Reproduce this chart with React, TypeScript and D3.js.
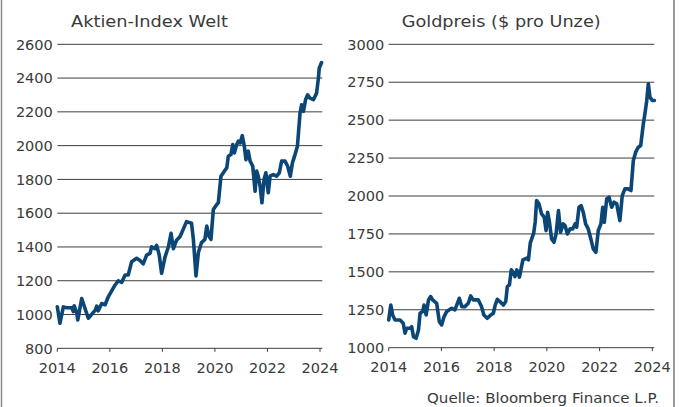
import React from "react";
import * as d3 from "d3";

const aktienWelt: [number, number][] = [
  [2014.0, 1046], [2014.1, 948], [2014.23, 1045], [2014.36, 1040], [2014.55, 1040],
  [2014.61, 1017], [2014.64, 1052], [2014.74, 1010], [2014.78, 968], [2014.93, 1095],
  [2015.18, 978], [2015.44, 1025], [2015.5, 1050], [2015.56, 1022], [2015.69, 1065],
  [2015.82, 1058], [2015.94, 1105], [2016.07, 1140], [2016.2, 1175], [2016.32, 1200],
  [2016.45, 1190], [2016.58, 1234], [2016.7, 1234], [2016.83, 1313], [2017.02, 1333],
  [2017.15, 1320], [2017.27, 1300], [2017.4, 1352], [2017.53, 1362], [2017.59, 1401],
  [2017.72, 1390], [2017.78, 1410], [2017.88, 1352], [2017.97, 1244], [2018.1, 1340],
  [2018.23, 1401], [2018.33, 1481], [2018.42, 1390], [2018.54, 1440], [2018.67, 1460],
  [2018.92, 1550], [2019.11, 1540], [2019.18, 1445], [2019.28, 1229], [2019.37, 1367],
  [2019.49, 1426], [2019.62, 1445], [2019.69, 1524], [2019.77, 1465], [2019.85, 1445],
  [2019.94, 1622], [2020.07, 1652], [2020.13, 1662], [2020.23, 1819], [2020.36, 1849],
  [2020.45, 1868], [2020.51, 1937], [2020.61, 1947], [2020.68, 2006], [2020.74, 1957],
  [2020.83, 2006], [2020.89, 2026], [2020.96, 2016], [2021.04, 2059], [2021.12, 1996],
  [2021.18, 1917], [2021.27, 1967], [2021.34, 1908], [2021.44, 1878], [2021.53, 1730],
  [2021.59, 1849], [2021.65, 1819], [2021.72, 1760], [2021.79, 1662], [2021.87, 1799],
  [2021.94, 1839], [2022.03, 1721], [2022.1, 1819], [2022.22, 1829], [2022.35, 1819],
  [2022.45, 1839], [2022.54, 1908], [2022.67, 1908], [2022.77, 1878], [2022.87, 1819],
  [2022.95, 1898], [2023.05, 1947], [2023.14, 1996], [2023.24, 2193], [2023.3, 2242],
  [2023.37, 2203], [2023.45, 2272], [2023.53, 2301], [2023.62, 2281], [2023.75, 2272],
  [2023.87, 2311], [2023.94, 2400], [2023.97, 2458], [2024.06, 2492],
];

const goldpreis: [number, number][] = [
  [2014.0, 1183], [2014.08, 1281], [2014.15, 1216], [2014.24, 1183], [2014.43, 1183],
  [2014.55, 1161], [2014.62, 1095], [2014.68, 1128], [2014.81, 1128], [2014.87, 1139],
  [2014.94, 1073], [2015.04, 1062], [2015.13, 1117], [2015.19, 1227], [2015.29, 1238],
  [2015.34, 1281], [2015.42, 1216], [2015.51, 1315], [2015.59, 1337], [2015.67, 1315],
  [2015.82, 1293], [2015.92, 1172], [2016.01, 1150], [2016.1, 1205], [2016.2, 1238],
  [2016.39, 1260], [2016.51, 1249], [2016.58, 1281], [2016.68, 1326], [2016.77, 1271],
  [2016.89, 1271], [2017.02, 1293], [2017.11, 1341], [2017.21, 1315], [2017.4, 1315],
  [2017.52, 1271], [2017.61, 1216], [2017.74, 1194], [2017.87, 1216], [2017.97, 1227],
  [2018.04, 1281], [2018.12, 1319], [2018.22, 1304], [2018.35, 1281], [2018.44, 1304],
  [2018.5, 1403], [2018.58, 1414], [2018.65, 1513], [2018.73, 1495], [2018.79, 1469],
  [2018.86, 1513], [2018.96, 1465], [2019.09, 1579], [2019.24, 1590], [2019.3, 1579],
  [2019.37, 1689], [2019.5, 1755], [2019.56, 1832], [2019.61, 1970], [2019.7, 1948],
  [2019.8, 1882], [2019.9, 1860], [2019.97, 1772], [2020.03, 1893], [2020.09, 1838],
  [2020.18, 1717], [2020.27, 1695], [2020.35, 1750], [2020.44, 1904], [2020.52, 1761],
  [2020.62, 1816], [2020.69, 1805], [2020.78, 1750], [2020.88, 1783], [2020.98, 1783],
  [2021.07, 1816], [2021.13, 1794], [2021.22, 1926], [2021.3, 1937], [2021.38, 1893],
  [2021.47, 1816], [2021.57, 1783], [2021.67, 1717], [2021.76, 1651], [2021.86, 1629],
  [2021.95, 1772], [2022.05, 1816], [2022.12, 1926], [2022.18, 1827], [2022.27, 1981],
  [2022.36, 1992], [2022.46, 1926], [2022.55, 1959], [2022.65, 1948], [2022.77, 1838],
  [2022.86, 2003], [2022.96, 2047], [2023.09, 2047], [2023.19, 2036], [2023.28, 2234],
  [2023.37, 2289], [2023.47, 2322], [2023.56, 2333], [2023.66, 2476], [2023.72, 2542],
  [2023.79, 2630], [2023.85, 2740], [2023.91, 2652], [2024.0, 2630], [2024.08, 2630],
];

const xTicks = [2014, 2016, 2018, 2020, 2022, 2024];
const aktienTicks = [800, 1000, 1200, 1400, 1600, 1800, 2000, 2200, 2400, 2600];
const goldTicks = [1000, 1250, 1500, 1750, 2000, 2250, 2500, 2750, 3000];

const W = 686;
const H = 407;
const lineColor = "#0b4676";
const textColor = "#3a3a3a";
const font = "DejaVu Sans, sans-serif";

type PanelProps = {
  data: [number, number][];
  yTicks: number[];
  title: string;
  titleX: number;
  titleLen: number;
  x0: number;
  x1: number;
  y0: number;
  y1: number;
  gridEnd: number;
};

const Panel = ({ data, yTicks, title, titleX, titleLen, x0, x1, y0, y1, gridEnd }: PanelProps) => {
  const xScale = d3.scaleLinear().domain([2014, 2024]).range([x0, x1]);
  const yScale = d3
    .scaleLinear()
    .domain([yTicks[0], yTicks[yTicks.length - 1]])
    .range([y0, y1]);

  const line = d3
    .line<[number, number]>()
    .x((d) => xScale(d[0]))
    .y((d) => yScale(d[1]));

  return (
    <g>
      <text
        x={titleX}
        y={26.5}
        fontSize={16.5}
        fill={textColor}
        textLength={titleLen}
        lengthAdjust="spacingAndGlyphs"
      >
        {title}
      </text>
      {yTicks.map((t) => (
        <g key={t}>
          <line
            x1={x0}
            x2={gridEnd}
            y1={yScale(t)}
            y2={yScale(t)}
            stroke="#3d3d3d"
            strokeWidth={1}
          />
          <text
            x={x0 - 4.5}
            y={yScale(t)}
            dy="0.36em"
            textAnchor="end"
            fontSize={14.5}
            fill={textColor}
          >
            {t}
          </text>
        </g>
      ))}
      {xTicks.map((t) => (
        <g key={t}>
          <line x1={xScale(t)} x2={xScale(t)} y1={y0} y2={y0 + 3.5} stroke="#3d3d3d" />
          <text
            x={xScale(t)}
            y={y0 + 24.3}
            textAnchor="middle"
            fontSize={14.5}
            fill={textColor}
          >
            {t}
          </text>
        </g>
      ))}
      <path
        d={line(data) ?? ""}
        fill="none"
        stroke={lineColor}
        strokeWidth={3.6}
        strokeLinejoin="round"
        strokeLinecap="round"
      />
    </g>
  );
};

export default function App() {
  return (
    <svg
      width={W}
      height={H}
      style={{ position: "absolute", left: 0, top: 0, background: "#fff" }}
      fontFamily={font}
    >
      <rect x={0} y={0} width={W} height={H} fill="#fff" />
      <line x1={1.5} x2={1.5} y1={0} y2={H} stroke="#8a8a8a" strokeWidth={1.5} />
      <line x1={674} x2={674} y1={0} y2={H} stroke="#555" strokeWidth={1.2} />
      <Panel
        data={aktienWelt}
        yTicks={aktienTicks}
        title="Aktien-Index Welt"
        titleX={71}
        titleLen={157}
        x0={57.3}
        x1={320}
        y0={348.3}
        y1={44.3}
        gridEnd={322.3}
      />
      <Panel
        data={goldpreis}
        yTicks={goldTicks}
        title="Goldpreis ($ pro Unze)"
        titleX={401.7}
        titleLen={199}
        x0={388.7}
        x1={652.3}
        y0={347.7}
        y1={44.3}
        gridEnd={654.3}
      />
      <text
        x={659}
        y={403}
        textAnchor="end"
        fontSize={13.5}
        fill={textColor}
        textLength={232}
        lengthAdjust="spacingAndGlyphs"
      >
        Quelle: Bloomberg Finance L.P.
      </text>
    </svg>
  );
}
